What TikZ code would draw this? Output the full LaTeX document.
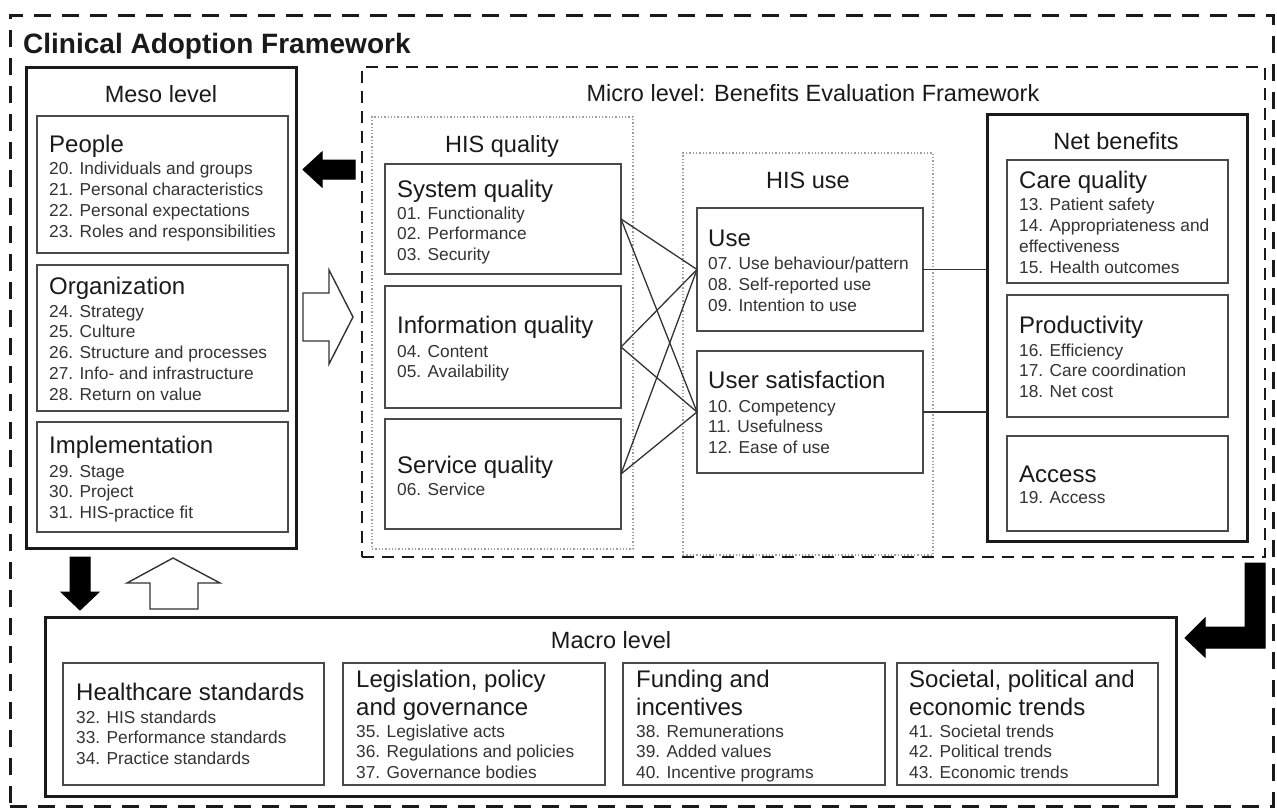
\documentclass[tikz,border=0pt]{standalone}
\usepackage{fontspec}
\setmainfont{Liberation Sans}
\definecolor{boxgray}{HTML}{4A4A4A}
\definecolor{txtgray}{HTML}{333333}
\definecolor{ttlblack}{HTML}{1A1A1A}
\newcommand\itemfont{\fontsize{17.3}{20.7}\selectfont}
\newcommand\ttlfont{\fontsize{24}{28}\selectfont}
\newcommand\lvlfont{\fontsize{23.5}{28}\selectfont}
\newcommand\mainttlfont{\fontsize{28}{32}\selectfont\bfseries}
% box node: name, x1, y1, x2, y2, style
\newcommand\bx[6]{\node[#6, minimum width={#4-#2}, minimum height={#5-#3}] (#1) at ({(#2+#4)/2},{(#3+#5)/2}) {};}
% item lines: name, x, first baseline, step, list
\newcommand\txtlines[5]{\foreach \t [count=\i] in {#5}{\node[itm] (#1-\i) at (#2,{#3+(\i-1)*#4}) {\t};}}
\begin{document}
\begin{tikzpicture}[x=1pt,y=-1pt,
  box/.style={draw=boxgray, line width=1.6pt, inner sep=0pt, outer sep=0pt},
  bigbox/.style={draw=ttlblack, line width=3pt, inner sep=0pt, outer sep=0pt},
  dotbox/.style={draw=gray!75, line width=1.3pt, dash pattern=on 1.3pt off 2pt, inner sep=0pt, outer sep=0pt},
  microbox/.style={draw=ttlblack, line width=2.4pt, dash pattern=on 12pt off 8pt, inner sep=0pt, outer sep=0pt},
  outerbox/.style={draw=ttlblack, line width=3pt, dash pattern=on 17pt off 11pt, inner sep=0pt, outer sep=0pt},
  itm/.style={font=\itemfont, text=txtgray, inner sep=0pt, anchor=base west},
  ttl/.style={font=\ttlfont, text=ttlblack, inner sep=0pt, anchor=base west},
  lvl/.style={font=\lvlfont, text=ttlblack, inner sep=0pt, anchor=base},
  conn/.style={draw=black!80, line width=1.3pt},
  blackarrow/.style={fill=black, draw=black, line width=1pt, line join=miter},
  whitearrow/.style={fill=white, draw=black!80, line width=1.4pt, line join=miter}]
\useasboundingbox (0,0) rectangle (1277,809);
\fill[white] (0,0) rectangle (1277,809);

% outer frame
\bx{outer}{10}{15}{1273}{806}{outerbox}
\node[font=\mainttlfont, text=ttlblack, inner sep=0pt, anchor=base west] (cafttl) at (23,53) {Clinical Adoption Framework};

% ---------------- Meso level
\bx{meso}{26}{67}{296}{548}{bigbox}
\node[lvl] (mesottl) at (161,102) {Meso level};
\bx{people}{37}{116}{288}{253}{box}
\node[ttl] (people-t) at (49,152) {People};
\txtlines{people}{49}{174}{21}{20. Individuals and groups,21. Personal characteristics,22. Personal expectations,23. Roles and responsibilities}
\bx{org}{37}{265}{288}{411}{box}
\node[ttl] (org-t) at (49,294) {Organization};
\txtlines{org}{49}{317}{20.75}{24. Strategy,25. Culture,26. Structure and processes,27. Info- and infrastructure,28. Return on value}
\bx{impl}{37}{422}{288}{532}{box}
\node[ttl] (impl-t) at (49,453) {Implementation};
\txtlines{impl}{49}{477}{20.5}{29. Stage,30. Project,31. HIS-practice fit}

% ---------------- Micro level
\bx{micro}{362}{67}{1265}{557}{microbox}
\node[lvl] (microttl) at (813,101) {Micro level: Benefits Evaluation Framework};

\bx{hisq}{372}{117}{633}{549}{dotbox}
\node[lvl] (hisqttl) at (502,152) {HIS quality};
\bx{sys}{385}{164}{621}{274}{box}
\node[ttl] (sys-t) at (397,197) {System quality};
\txtlines{sys}{397}{219}{20.5}{01. Functionality,02. Performance,03. Security}
\bx{info}{385}{286}{621}{408}{box}
\node[ttl] (info-t) at (397,333) {Information quality};
\txtlines{info}{397}{357}{20.5}{04. Content,05. Availability}
\bx{serv}{385}{419}{621}{529}{box}
\node[ttl] (serv-t) at (397,473) {Service quality};
\txtlines{serv}{397}{495}{20.5}{06. Service}

\bx{hisu}{683}{153}{933}{555}{dotbox}
\node[lvl] (hisuttl) at (808,188) {HIS use};
\bx{use}{697}{208}{923}{331}{box}
\node[ttl] (use-t) at (708,246) {Use};
\txtlines{use}{708}{269}{21}{07. Use behaviour/pattern,08. Self-reported use,09. Intention to use}
\bx{sat}{697}{351}{923}{473}{box}
\node[ttl] (sat-t) at (708,388) {User satisfaction};
\txtlines{sat}{708}{412}{20.5}{10. Competency,11. Usefulness,12. Ease of use}

\bx{net}{987}{114}{1247}{541}{bigbox}
\node[lvl] (netttl) at (1116,149) {Net benefits};
\bx{care}{1007}{160}{1228}{283}{box}
\node[ttl] (care-t) at (1019,188) {Care quality};
\txtlines{care}{1019}{210}{21}{13. Patient safety,14. Appropriateness and,effectiveness,15. Health outcomes}
\bx{prod}{1007}{295}{1228}{417}{box}
\node[ttl] (prod-t) at (1019,333) {Productivity};
\txtlines{prod}{1019}{356}{20.5}{16. Efficiency,17. Care coordination,18. Net cost}
\bx{acc}{1007}{436}{1228}{531}{box}
\node[ttl] (acc-t) at (1019,482) {Access};
\txtlines{acc}{1019}{503}{20.5}{19. Access}

% connectors
\foreach \s in {sys,info,serv}{
  \draw[conn] (\s.east) -- (use.west);
  \draw[conn] (\s.east) -- (sat.west);
}
\draw[conn] (use.east) -- (use.east -| net.west);
\draw[conn] (sat.east) -- (sat.east -| net.west);

% ---------------- Macro level
\bx{macro}{45}{617}{1176}{796}{bigbox}
\node[lvl] (macrottl) at (611,648) {Macro level};
\bx{hc}{63}{663}{324}{785}{box}
\node[ttl] (hc-t) at (76,700) {Healthcare standards};
\txtlines{hc}{76}{723}{20.5}{32. HIS standards,33. Performance standards,34. Practice standards}
\bx{leg}{343}{663}{605}{785}{box}
\node[ttl] (leg-t1) at (356,687) {Legislation, policy};
\node[ttl] (leg-t2) at (356,715) {and governance};
\txtlines{leg}{356}{737}{20.5}{35. Legislative acts,36. Regulations and policies,37. Governance bodies}
\bx{fund}{623}{663}{885}{785}{box}
\node[ttl] (fund-t1) at (636,687) {Funding and};
\node[ttl] (fund-t2) at (636,715) {incentives};
\txtlines{fund}{636}{737}{20.5}{38. Remunerations,39. Added values,40. Incentive programs}
\bx{soc}{897}{663}{1158}{785}{box}
\node[ttl] (soc-t1) at (909,687) {Societal, political and};
\node[ttl] (soc-t2) at (909,715) {economic trends};
\txtlines{soc}{909}{737}{20.5}{41. Societal trends,42. Political trends,43. Economic trends}

% ---------------- block arrows
\filldraw[blackarrow] (355,160) -- (322,160) -- (322,152) -- (303,169.5) -- (322,187) -- (322,179) -- (355,179) -- cycle;
\filldraw[whitearrow] (303,293) -- (329,293) -- (329,270) -- (353,317) -- (329,364) -- (329,341) -- (303,341) -- cycle;
\filldraw[blackarrow] (70,557) -- (90,557) -- (90,592) -- (99,592) -- (80,610) -- (61,592) -- (70,592) -- cycle;
\filldraw[whitearrow] (150,609) -- (150,583) -- (127,583) -- (173,558) -- (220,583) -- (198,583) -- (198,609) -- cycle;
\filldraw[blackarrow] (1245,563) -- (1265,563) -- (1265,648) -- (1205,648) -- (1205,657) -- (1185,638) -- (1205,618) -- (1205,627) -- (1245,627) -- cycle;
\end{tikzpicture}
\end{document}
